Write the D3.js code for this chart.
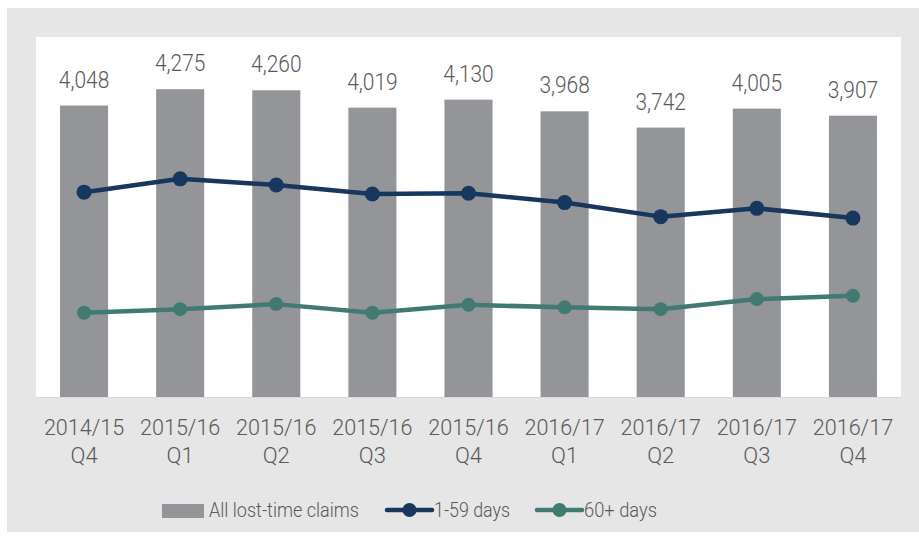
<!DOCTYPE html>
<html>
<head>
<meta charset="utf-8">
<script src="https://cdn.jsdelivr.net/npm/d3@7"></script>
<style>
  body { margin: 0; background: #fff; }
  text { font-family: Roboto, "Open Sans", sans-serif; font-weight: 300; fill: #595959; }
</style>
</head>
<body>
<div id="chart"></div>
<script>
// Chart data
var quarters = [
  ["2014/15", "Q4"], ["2015/16", "Q1"], ["2015/16", "Q2"], ["2015/16", "Q3"], ["2015/16", "Q4"],
  ["2016/17", "Q1"], ["2016/17", "Q2"], ["2016/17", "Q3"], ["2016/17", "Q4"]
];
var allClaims = [4048, 4275, 4260, 4019, 4130, 3968, 3742, 4005, 3907];
var days1to59 = [2845, 3030, 2945, 2820, 2830, 2700, 2505, 2620, 2485];
var days60plus = [1170, 1220, 1290, 1170, 1280, 1245, 1220, 1360, 1405];

// Define SVG area dimensions
var svg_Width = 919;
var svg_Height = 542;

// Plot area (white box)
var plot = { left: 36, right: 901, top: 37, bottom: 397 };

var svg = d3.select("#chart")
  .append("svg")
  .attr("width", svg_Width)
  .attr("height", svg_Height);

// squeeze text horizontally, the original font is narrower than Roboto
function condense(sel, k) {
  sel.each(function() {
    var w = this.getComputedTextLength();
    d3.select(this).attr("textLength", w * k).attr("lengthAdjust", "spacingAndGlyphs");
  });
}

// Gray outer panel
svg.append("rect")
  .attr("x", 7).attr("y", 8)
  .attr("width", svg_Width - 7).attr("height", 524)
  .attr("fill", "#e6e6e6");

// White plot area
svg.append("rect")
  .attr("x", plot.left).attr("y", plot.top)
  .attr("width", plot.right - plot.left).attr("height", plot.bottom - plot.top)
  .attr("fill", "#fff");

var keys = quarters.map(q => q.join(" "));

var x = d3.scaleBand()
  .domain(keys)
  .range([plot.left, plot.right])
  .paddingInner(0.5)
  .paddingOuter(0.25);

var y = d3.scaleLinear()
  .domain([0, 5000])
  .range([plot.bottom, plot.top]);

var cx = i => x(keys[i]) + x.bandwidth() / 2;

// Bars
svg.selectAll(".bar")
  .data(allClaims)
  .enter()
  .append("rect")
  .attr("class", "bar")
  .attr("x", (d, i) => x(keys[i]))
  .attr("y", d => y(d))
  .attr("width", x.bandwidth())
  .attr("height", d => y(0) - y(d))
  .attr("fill", "#939598");

// Bar value labels
svg.selectAll(".barLabel")
  .data(allClaims)
  .enter()
  .append("text")
  .attr("class", "barLabel")
  .attr("x", (d, i) => cx(i))
  .attr("y", d => y(d) - 18)
  .attr("text-anchor", "middle")
  .style("font-size", "23px")
  .text(d => d3.format(",")(d))
  .call(condense, 0.91);

// Bottom axis line
svg.append("line")
  .attr("x1", plot.left).attr("x2", plot.right)
  .attr("y1", plot.bottom + 0.5).attr("y2", plot.bottom + 0.5)
  .attr("stroke", "#d9d9d9");

// Category labels (two lines)
svg.selectAll(".xLabel1")
  .data(quarters)
  .enter()
  .append("text")
  .attr("x", (d, i) => cx(i))
  .attr("y", 435)
  .attr("text-anchor", "middle")
  .style("font-size", "22px")
  .text(d => d[0])
  .call(condense, 0.98);

svg.selectAll(".xLabel2")
  .data(quarters)
  .enter()
  .append("text")
  .attr("x", (d, i) => cx(i))
  .attr("y", 463)
  .attr("text-anchor", "middle")
  .style("font-size", "22px")
  .text(d => d[1]);

// Lines
var line = d3.line()
  .x((d, i) => cx(i))
  .y(d => y(d));

function drawSeries(values, color, r) {
  svg.append("path")
    .datum(values)
    .attr("d", line)
    .attr("fill", "none")
    .attr("stroke", color)
    .attr("stroke-width", 4.5)
    .attr("stroke-linejoin", "round");
  svg.selectAll(null)
    .data(values)
    .enter()
    .append("circle")
    .attr("cx", (d, i) => cx(i))
    .attr("cy", d => y(d))
    .attr("r", r)
    .attr("fill", color);
}

drawSeries(days1to59, "#17375e", 7.5);
drawSeries(days60plus, "#417a72", 7);

// Legend
var legend = svg.append("g");
legend.append("rect")
  .attr("x", 162).attr("y", 504).attr("width", 42).attr("height", 14)
  .attr("fill", "#939598");
legend.append("text")
  .attr("x", 209).attr("y", 517)
  .style("font-size", "21px")
  .text("All lost-time claims")
  .attr("textLength", 150).attr("lengthAdjust", "spacingAndGlyphs");

[{ x: 387, color: "#17375e", label: "1-59 days", w: 76 }, { x: 537, color: "#417a72", label: "60+ days", w: 73 }]
  .forEach(function(item) {
    legend.append("line")
      .attr("x1", item.x).attr("x2", item.x + 45)
      .attr("y1", 510).attr("y2", 510)
      .attr("stroke", item.color)
      .attr("stroke-width", 4.5)
      .attr("stroke-linecap", "round");
    legend.append("circle")
      .attr("cx", item.x + 22.5).attr("cy", 510).attr("r", 7)
      .attr("fill", item.color);
    legend.append("text")
      .attr("x", item.x + 47).attr("y", 517)
      .style("font-size", "21px")
      .text(item.label)
      .attr("textLength", item.w).attr("lengthAdjust", "spacingAndGlyphs");
  });
</script>
</body>
</html>
